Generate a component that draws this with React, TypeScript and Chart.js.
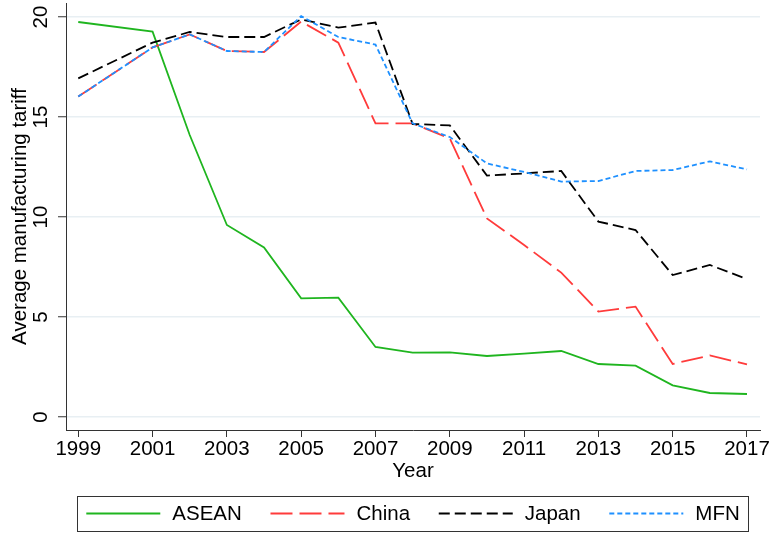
import { useEffect, useRef } from 'react';
import { Chart, registerables } from 'chart.js';

Chart.register(...registerables);

// ---- data ----
const years = [1999, 2001, 2002, 2003, 2004, 2005, 2006, 2007, 2008, 2009, 2010, 2011, 2012, 2013, 2014, 2015, 2016, 2017];
const asean = [19.75, 19.27, 14.1, 9.6, 8.48, 5.93, 5.97, 3.5, 3.22, 3.23, 3.05, 3.17, 3.3, 2.65, 2.57, 1.58, 1.2, 1.15];
const china = [16.02, 18.48, 19.13, 18.3, 18.25, 19.77, 18.72, 14.68, 14.68, 13.93, 9.93, 8.6, 7.22, 5.27, 5.52, 2.65, 3.08, 2.63];
const japan = [16.93, 18.72, 19.25, 19.0, 19.0, 19.88, 19.47, 19.72, 14.65, 14.58, 12.07, 12.18, 12.3, 9.77, 9.35, 7.1, 7.6, 6.9];
const mfn = [16.02, 18.48, 19.13, 18.3, 18.25, 20.05, 19.0, 18.62, 14.68, 14.0, 12.68, 12.25, 11.77, 11.8, 12.3, 12.35, 12.78, 12.38];
const seriesNames = ['ASEAN', 'China', 'Japan', 'MFN'];
const xTickYears = [1999, 2001, 2003, 2005, 2007, 2009, 2011, 2013, 2015, 2017];
const yTickValues = [0, 5, 10, 15, 20];
const xTitle = 'Year';
const yTitle = 'Average manufacturing tariff';

const FONT_FAMILY = '"Liberation Sans", Arial, Helvetica, sans-serif';
const FS = 20.5;

export default function App() {
  const ref = useRef<HTMLCanvasElement | null>(null);

  useEffect(() => {
    if (!ref.current) return;
    const styles = [
      { color: '#1fb51f', dash: [] as number[], order: 4 },
      { color: '#ff3b3b', dash: [22, 7], order: 3 },
      { color: '#000000', dash: [11, 5], order: 2 },
      { color: '#1e90ff', dash: [5, 3], order: 1 },
    ];
    const values = [asean, china, japan, mfn];

    const yTickLabels = {
      id: 'yTickLabels',
      afterDraw(chart: any) {
        const { ctx } = chart;
        const ys = chart.scales.y;
        ctx.save();
        ctx.font = `${FS}px ${FONT_FAMILY}`;
        ctx.fillStyle = '#000';
        ctx.textAlign = 'center';
        ctx.textBaseline = 'middle';
        for (const v of yTickValues) {
          const py = ys.getPixelForValue(v);
          ctx.save();
          ctx.translate(41.5, py);
          ctx.rotate(-Math.PI / 2);
          ctx.fillText(String(v), 0, 0);
          ctx.restore();
        }
        ctx.restore();
      },
    };

    const boxLegend = {
      id: 'boxLegend',
      afterDraw(chart: any) {
        const { ctx, chartArea } = chart;
        const cx = (chartArea.left + chartArea.right) / 2;
        ctx.save();
        ctx.font = `${FS}px ${FONT_FAMILY}`;
        // frame
        ctx.strokeStyle = '#333';
        ctx.lineWidth = 1;
        ctx.setLineDash([]);
        ctx.strokeRect(Math.round(cx - 336) + 0.5, 496.5, 671, 35);
        // items
        const sample = 74;
        const textGap = 86;
        const itemGap = 28.7;
        const dsets = chart.data.datasets;
        const widths = dsets.map((d: any) => ctx.measureText(d.label).width);
        const total = widths.reduce((a: number, w: number) => a + textGap + w, 0) + itemGap * (dsets.length - 1);
        let x = cx - total / 2;
        dsets.forEach((d: any, i: number) => {
          ctx.beginPath();
          ctx.setLineDash(d.borderDash || []);
          ctx.strokeStyle = d.borderColor;
          ctx.lineWidth = d.borderWidth;
          ctx.moveTo(x, 513.5);
          ctx.lineTo(x + sample, 513.5);
          ctx.stroke();
          ctx.setLineDash([]);
          ctx.fillStyle = '#000';
          ctx.textAlign = 'left';
          ctx.textBaseline = 'middle';
          ctx.fillText(d.label, x + textGap, 514.5);
          x += textGap + widths[i] + itemGap;
        });
        ctx.restore();
      },
    };

    const font = { family: FONT_FAMILY, size: FS };

    const chart = new Chart(ref.current, {
      type: 'line',
      data: {
        datasets: seriesNames.map((name, i) => ({
          label: name,
          data: years.map((yr, j) => ({ x: yr, y: values[i][j] })),
          borderColor: styles[i].color,
          backgroundColor: styles[i].color,
          borderWidth: 1.8,
          borderDash: styles[i].dash,
          pointRadius: 0,
          pointHoverRadius: 0,
          tension: 0,
          fill: false,
          order: styles[i].order,
        })),
      },
      options: {
        animation: false,
        responsive: false,
        maintainAspectRatio: false,
        layout: { padding: { top: 3, right: 10, bottom: 49.5, left: 0 } },
        plugins: {
          legend: { display: false },
          tooltip: { enabled: false },
        },
        scales: {
          x: {
            type: 'linear',
            min: 1998.67,
            max: 2017.35,
            afterBuildTicks: (s: any) => {
              s.ticks = xTickYears.map((v) => ({ value: v }));
            },
            afterFit: (s: any) => {
              s.height = 53.5;
            },
            ticks: {
              font,
              color: '#000',
              padding: 0,
              maxRotation: 0,
              minRotation: 0,
              autoSkip: false,
              callback: (v: any) => String(v),
            },
            grid: {
              drawOnChartArea: false,
              drawTicks: true,
              tickLength: 7,
              tickColor: '#333',
              tickWidth: 1,
            },
            border: { display: true, color: '#333', width: 1 },
            title: { display: true, text: xTitle, font, color: '#000', padding: 0 },
          },
          y: {
            type: 'linear',
            min: -0.65,
            max: 20.7,
            afterBuildTicks: (s: any) => {
              s.ticks = yTickValues.map((v) => ({ value: v }));
            },
            afterFit: (s: any) => {
              s.width = 66;
            },
            ticks: { display: false },
            grid: {
              color: '#e8eff3',
              lineWidth: 1.5,
              drawTicks: true,
              tickLength: 8,
              tickColor: '#333',
              tickWidth: 1,
            },
            border: { display: true, color: '#333', width: 1 },
            title: {
              display: true,
              text: yTitle,
              font,
              color: '#000',
              padding: { top: 8, bottom: 0 },
            },
          },
        },
      },
      plugins: [yTickLabels, boxLegend],
    });
    return () => chart.destroy();
  }, []);

  return (
    <div style={{ position: 'absolute', left: 0, top: 0, width: 770, height: 533, background: '#fff' }}>
      <canvas ref={ref} width={770} height={533} style={{ display: 'block', width: 770, height: 533 }} />
    </div>
  );
}
